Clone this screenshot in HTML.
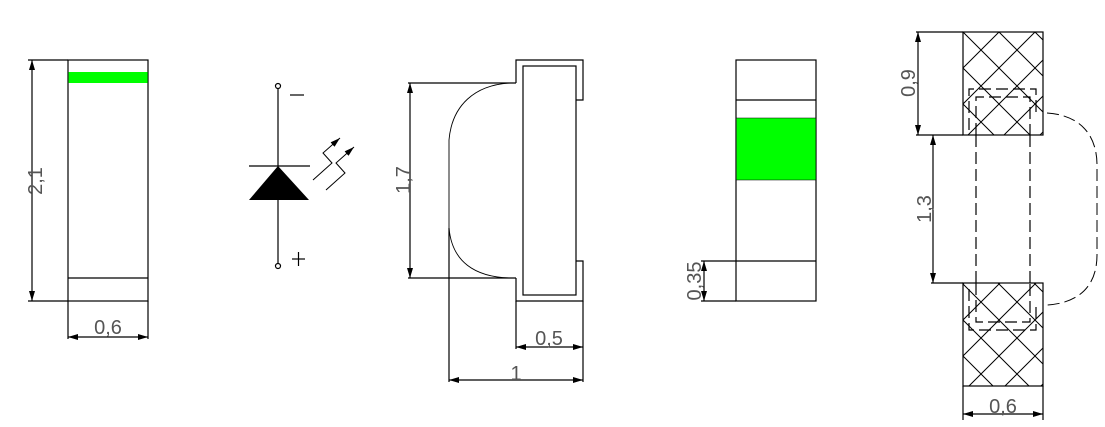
<!DOCTYPE html>
<html><head><meta charset="utf-8"><style>
html,body{margin:0;padding:0;background:#fff;}
svg{display:block;}
text{font-family:"Liberation Sans",sans-serif;font-size:20px;fill:#555;}
</style></head><body>
<svg width="1105" height="427" viewBox="0 0 1105 427" xmlns="http://www.w3.org/2000/svg">
<defs>
<marker id="a" viewBox="0 0 10 6" refX="10" refY="3" markerWidth="10" markerHeight="6" orient="auto-start-reverse" markerUnits="userSpaceOnUse"><path d="M0,0L10,3L0,6z" fill="#000"/></marker>
<pattern id="h" width="36" height="36" patternUnits="userSpaceOnUse" patternTransform="translate(963,32)">
<path d="M-2,-2L38,38M38,-2L-2,38" stroke="#000" stroke-width="1"/>
</pattern>
</defs>
<g fill="none" stroke="#000" stroke-width="1.2">
<rect x="68" y="60" width="80" height="241"/>
<line x1="68" y1="278" x2="148" y2="278"/>
<line x1="28" y1="60" x2="68" y2="60"/>
<line x1="28" y1="301" x2="68" y2="301"/>
<line x1="32" y1="60" x2="32" y2="301" marker-start="url(#a)" marker-end="url(#a)"/>
<line x1="68" y1="301" x2="68" y2="339"/>
<line x1="148" y1="301" x2="148" y2="339"/>
<line x1="68" y1="337" x2="148" y2="337" marker-start="url(#a)" marker-end="url(#a)"/>
<line x1="278" y1="89" x2="278" y2="263"/>
<circle cx="278" cy="86" r="2.5"/>
<circle cx="278" cy="266" r="2.5"/>
<line x1="249" y1="166" x2="310" y2="166"/>
<line x1="290" y1="95" x2="304" y2="95"/>
<line x1="292" y1="259" x2="305" y2="259"/>
<line x1="298.5" y1="252" x2="298.5" y2="266"/>
<polyline points="313,180 332,163 323,153 340,138" stroke-width="1" marker-end="url(#a)"/>
<polyline points="326,190 345,173 336,163 354,147" stroke-width="1" marker-end="url(#a)"/>
<path d="M516,83 L516,60 L583,60 L583,100 L576,100"/>
<rect x="523" y="66" width="53" height="229"/>
<path d="M576,261 L583,261 L583,301 L516,301 L516,278"/>
<line x1="408" y1="83" x2="516" y2="83"/>
<line x1="408" y1="278" x2="516" y2="278"/>
<path d="M510,83 C475,85 452,105 449,140 L449,228 C452,262 475,277 510,278" stroke-width="0.9"/>
<line x1="449" y1="228" x2="449" y2="382"/>
<line x1="410" y1="83" x2="410" y2="278" marker-start="url(#a)" marker-end="url(#a)"/>
<line x1="516" y1="301" x2="516" y2="349"/>
<line x1="516" y1="347" x2="583" y2="347" marker-start="url(#a)" marker-end="url(#a)"/>
<line x1="583" y1="301" x2="583" y2="382"/>
<line x1="449" y1="380" x2="583" y2="380" marker-start="url(#a)" marker-end="url(#a)"/>
<rect x="736" y="60" width="80" height="241"/>
<line x1="736" y1="100" x2="816" y2="100"/>
<line x1="736" y1="261" x2="816" y2="261"/>
<line x1="701" y1="261" x2="736" y2="261"/>
<line x1="701" y1="301" x2="736" y2="301"/>
<line x1="704" y1="261" x2="704" y2="301" marker-start="url(#a)" marker-end="url(#a)"/>
</g>
<rect x="68.6" y="72" width="79" height="11" fill="#00ff00"/>
<polygon points="278,166 249,200 309,200" fill="#000"/>
<rect x="736.6" y="118" width="79" height="62" fill="#00ff00"/>
<line x1="736" y1="118" x2="816" y2="118" stroke="#000" stroke-width="0.6"/>
<line x1="736" y1="180" x2="816" y2="180" stroke="#000" stroke-width="0.6"/>
<rect x="963" y="32" width="80" height="103" fill="url(#h)" stroke="#000" stroke-width="1.2"/>
<rect x="963" y="283" width="80" height="103" fill="url(#h)" stroke="#000" stroke-width="1.2"/>
<g fill="none" stroke="#000" stroke-width="1.2">
<line x1="916" y1="32" x2="963" y2="32"/>
<line x1="916" y1="135" x2="963" y2="135"/>
<line x1="918" y1="32" x2="918" y2="135" marker-start="url(#a)" marker-end="url(#a)"/>
<line x1="931" y1="283" x2="963" y2="283"/>
<line x1="933" y1="135" x2="933" y2="283" marker-start="url(#a)" marker-end="url(#a)"/>
<line x1="963" y1="386" x2="963" y2="420"/>
<line x1="1043" y1="386" x2="1043" y2="420"/>
<line x1="963" y1="414" x2="1043" y2="414" marker-start="url(#a)" marker-end="url(#a)"/>
<g stroke-dasharray="12,5">
<line x1="976" y1="135" x2="976" y2="283"/>
<line x1="1030" y1="135" x2="1030" y2="283"/>
<polyline points="969,130 969,89 1036,89 1036,112"/>
<polyline points="976,135 976,97 1030,97 1030,135"/>
<polyline points="969,289 969,330 1036,330 1036,306"/>
<polyline points="976,283 976,322 1030,322 1030,283"/>
<path d="M1047,113 C1080,115 1097,135 1097,165 L1097,255 C1097,285 1080,303 1047,305" stroke-width="1"/>
</g>
</g>
<text transform="translate(42,181) rotate(-90)" text-anchor="middle">2,1</text>
<text x="108" y="334" text-anchor="middle">0,6</text>
<text transform="translate(410,180) rotate(-90)" text-anchor="middle">1,7</text>
<text x="549" y="345" text-anchor="middle">0,5</text>
<text x="516" y="380" text-anchor="middle">1</text>
<text transform="translate(701,281) rotate(-90)" text-anchor="middle">0,35</text>
<text transform="translate(915,83) rotate(-90)" text-anchor="middle">0,9</text>
<text transform="translate(931,209) rotate(-90)" text-anchor="middle">1,3</text>
<text x="1003" y="413" text-anchor="middle">0,6</text>
</svg>
</body></html>
